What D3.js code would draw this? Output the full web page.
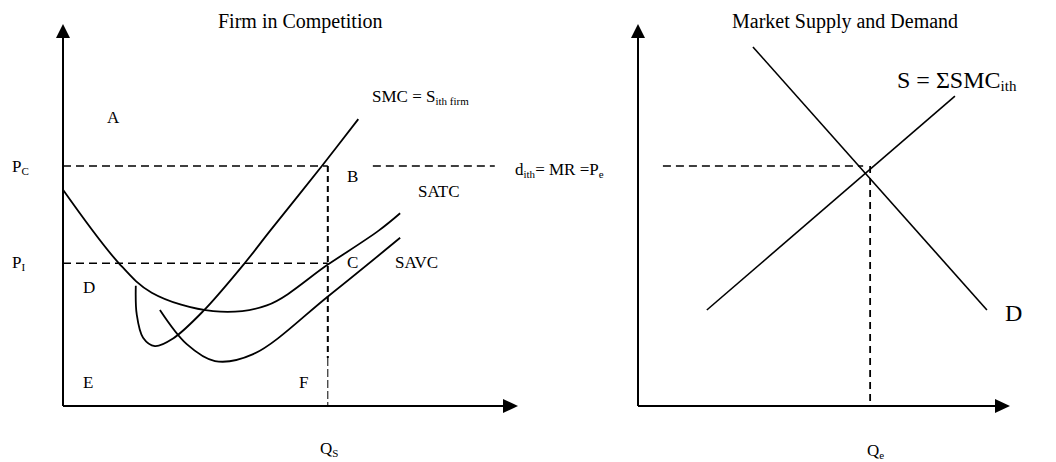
<!DOCTYPE html>
<html>
<head>
<meta charset="utf-8">
<script src="https://cdn.jsdelivr.net/npm/d3@7"></script>
<style>
body{margin:0;background:#fff}
text{font-family:"Liberation Serif","Times New Roman",serif;fill:#000}
</style>
</head>
<body>
<svg></svg>
<script>
// firm curves, (quantity, price)
var smc = [[1.60,3.13],[1.62,2.39],[1.76,1.78],[2.02,1.56],[2.42,1.76],[3.08,2.47],[4.00,3.73],[4.55,4.56],[5.69,6.25],[6.49,7.47]]
var satc = [[0,5.63],[1.22,3.73],[1.95,2.95],[3.30,2.47],[4.48,2.62],[5.83,3.69],[6.93,4.56],[7.41,5.02]]
var savc = [[2.13,2.50],[2.72,1.61],[3.34,1.17],[4.18,1.35],[5.83,2.86],[7.41,4.38]]
var pc = 6.25, pI = 3.72, qs = 5.82
var pcRight = [6.81, 9.49]

// market
var supply = [[1.85,2.5],[8.52,8.07]]
var demand = [[3.09,9.35],[9.38,2.5]]
var pe = 6.25, qe = 6.24
var peStart = 0.67

var svg = d3.select("svg").attr("width",1056).attr("height",462)

var xL = d3.scaleLinear().domain([0,10]).range([63,518])
var xR = d3.scaleLinear().domain([0,10]).range([638,1010])
var y = d3.scaleLinear().domain([0,10]).range([406,22])

function axes(x){
  svg.append("line").attr("x1",x(0)).attr("y1",y(0)).attr("x2",x(0)).attr("y2",y(10)+10)
    .attr("stroke","#000").attr("stroke-width",2)
  svg.append("line").attr("x1",x(0)).attr("y1",y(0)).attr("x2",x(10)-10).attr("y2",y(0))
    .attr("stroke","#000").attr("stroke-width",2)
  svg.append("path").attr("d","M"+x(0)+","+(y(10)+2)+"L"+(x(0)-7)+","+(y(10)+16)+"L"+(x(0)+7)+","+(y(10)+16)+"Z")
  svg.append("path").attr("d","M"+x(10)+","+y(0)+"L"+(x(10)-15)+","+(y(0)-7)+"L"+(x(10)-15)+","+(y(0)+7)+"Z")
}
axes(xL)
axes(xR)

function dash(x1,y1,x2,y2,w,pat){
  svg.append("line").attr("x1",x1).attr("y1",y1).attr("x2",x2).attr("y2",y2)
    .attr("stroke","#000").attr("stroke-width",w).attr("stroke-dasharray",pat)
}
dash(xL(0),y(pc),xL(qs),y(pc),1.5,"8,5")
dash(xL(pcRight[0]),y(pc),xL(pcRight[1]),y(pc),1.5,"8,5")
dash(xL(0),y(pI),xL(qs),y(pI),1.5,"8,5")
dash(xL(qs),y(pc),xL(qs),y(1.25),2,"6,4")
dash(xL(qs),y(1.25),xL(qs),y(0),1,"8,3")
dash(xR(peStart),y(pe),xR(qe)-7,y(pe),1.5,"8,5")
dash(xR(qe),y(pe),xR(qe),y(0),1.8,"7,5")

var curve = d3.line().x(d=>xL(d[0])).y(d=>y(d[1])).curve(d3.curveCatmullRom.alpha(0.5))
;[smc,satc,savc].forEach(c=>{
  svg.append("path").datum(c).attr("d",curve).attr("fill","none").attr("stroke","#000").attr("stroke-width",1.8)
})
var straight = d3.line().x(d=>xR(d[0])).y(d=>y(d[1]))
;[supply,demand].forEach(c=>{
  svg.append("path").datum(c).attr("d",straight).attr("fill","none").attr("stroke","#000").attr("stroke-width",1.6)
})

// label with a subscript part, optionally followed by more normal text
function sub(x,yy,size,main,s,rest){
  var t = svg.append("text").attr("x",x).attr("y",yy).style("font-size",size+"px")
  t.append("tspan").text(main)
  t.append("tspan").text(s).style("font-size",Math.round(size*0.62)+"px").attr("dy",3)
  if(rest) t.append("tspan").text(rest).attr("dy",-3)
  return t
}

svg.append("text").attr("x",218).attr("y",28).style("font-size","20px").text("Firm in Competition")
svg.append("text").attr("x",732).attr("y",28).style("font-size","20px").text("Market Supply and Demand")

sub(12,y(pc)+6,17,"P","C")
sub(12,y(pI)+5,17,"P","I")
sub(372,102,17,"SMC = S","ith firm")
sub(320,454,17,"Q","S")
sub(867,456,17,"Q","e")
var t = svg.append("text").attr("x",515).attr("y",175).style("font-size",17+"px")
t.append("tspan").text("d")
t.append("tspan").text("ith").style("font-size","11px").attr("dy",3)
t.append("tspan").text("= MR =P").attr("dy",-3)
t.append("tspan").text("e").style("font-size","11px").attr("dy",3)
sub(897,88,24,"S = ΣSMC","ith")

var letters = [["A",107,123],["B",347,182],["SATC",418,197],["C",347,268],["SAVC",395,268],["D",83,293],["E",83,388],["F",299,388]]
letters.forEach(l=>{
  svg.append("text").attr("x",l[1]).attr("y",l[2]).style("font-size","17px").text(l[0])
})
svg.append("text").attr("x",1005).attr("y",321).style("font-size","24px").text("D")
</script>
</body>
</html>
